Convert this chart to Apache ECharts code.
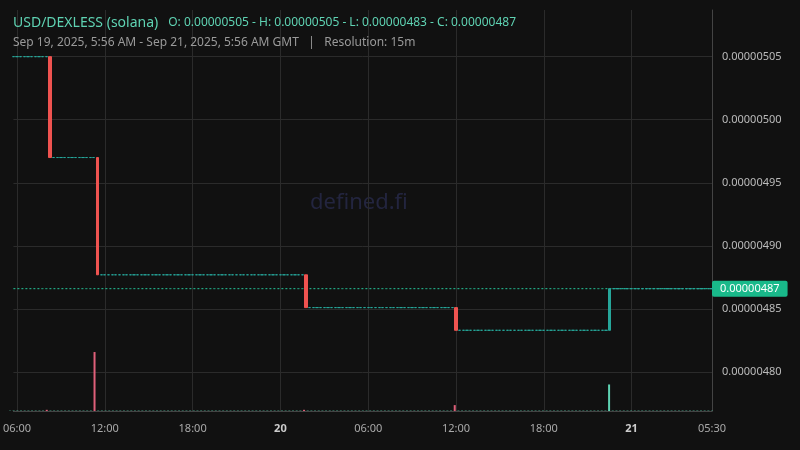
<!DOCTYPE html>
<html><head><meta charset="utf-8">
<script src="https://cdn.jsdelivr.net/npm/echarts@6/dist/echarts.min.js"></script>
<style>html,body{margin:0;background:#111111}#c{width:800px;height:450px}</style>
</head><body><div id="c"></div>
<script>
// Start Sep 19 05:45 GMT, 15m candles, 192 candles
const startTime = Date.UTC(2025, 8, 19, 5, 45);
const candleCount = 192;
// price runs: [first candle index, open, close]; candles between runs are flat at the previous close
const priceMoves = [
  [0, 0.00000505, 0.00000505],
  [10, 0.00000505, 0.00000497],
  [23, 0.00000497, 0.000004877],
  [80, 0.000004877, 0.000004851],
  [121, 0.000004851, 0.000004833],
  [163, 0.000004833, 0.000004866]
];
// volume: [candle index, volume]
const volumes = [[10, 2], [23, 100], [80, 2], [121, 10], [163, 45]];
const priceTicks = [0.0000048, 0.00000485, 0.0000049, 0.00000495, 0.000005, 0.00000505];
const lastPrice = 0.000004866;

const cats = [], candles = [], vol = [], lastLine = [];
let last = priceMoves[0][1];
for (let i = 0; i < candleCount; i++) {
  cats.push(startTime + i * 900000);
  const m = priceMoves.find(p => p[0] === i);
  if (m) { candles.push([m[1], m[2], Math.min(m[1], m[2]), Math.max(m[1], m[2])]); last = m[2]; }
  else candles.push([last, last, last, last]);
  const v = volumes.find(p => p[0] === i);
  vol.push(v ? {value: v[1], itemStyle: {color: candles[i][1] < candles[i][0] ? '#e0607a' : '#5fd3b3'}} : {value: 0.6, itemStyle:{color:'#5fd3b3'}});
  lastLine.push(lastPrice);
}
const isTick = (i) => {
  const d = new Date(cats[i]);
  const h = d.getUTCHours(), mi = d.getUTCMinutes();
  return (mi === 0 && h % 6 === 0) || i === candleCount - 1;
};
const fmtLabel = (val, i) => {
  const d = new Date(Number(val));
  const h = d.getUTCHours(), mi = d.getUTCMinutes();
  if (h === 0 && mi === 0) return '{b|' + d.getUTCDate() + '}';
  return String(h).padStart(2,'0') + ':' + String(mi).padStart(2,'0');
};
const chart = echarts.init(document.getElementById('c'));
chart.setOption({
  backgroundColor: '#111111',
  animation: false,
  title: [{
    left: 8, top: 9,
    text: '{a|USD/DEXLESS (solana)}  {o|O: 0.00000505 - H: 0.00000505 - L: 0.00000483 - C: 0.00000487}',
    textStyle: {rich: {a: {color: '#5fd3b3', fontSize: 14, fontWeight: 'normal', fontFamily: 'Noto Sans'}, o: {color: '#5fd3b3', fontSize: 12, fontWeight: 'normal', fontFamily: 'Noto Sans'}}}
  }, {
    left: 8, top: 32,
    text: 'Sep 19, 2025, 5:56 AM - Sep 21, 2025, 5:56 AM GMT   |   Resolution: 15m',
    textStyle: {color: '#9a9a9a', fontSize: 12, fontWeight: 'normal', fontFamily: 'Noto Sans'}
  }],
  graphic: [{type: 'text', left: 310, top: 192, style: {text: 'defined.fi', fill: '#23253f', fontSize: 22, fontFamily: 'Noto Sans'}}],
  grid: [{left: 10, right: 88, top: 10, bottom: 39}, {left: 10, right: 88, top: 10, bottom: 39}],
  xAxis: [{
    type: 'category', data: cats, gridIndex: 0, boundaryGap: false,
    axisLine: {lineStyle: {color: '#444'}}, axisTick: {show: false},
    axisLabel: {interval: (i) => isTick(i), formatter: fmtLabel, color: '#aaa', fontSize: 11, fontFamily: 'Noto Sans', margin: 12,
      rich: {b: {fontWeight: 'bold', color: '#ccc', fontSize: 11}}},
    splitLine: {show: true, interval: (i) => isTick(i), lineStyle: {color: '#2b2b2b'}}
  }, {type: 'category', data: cats, gridIndex: 1, show: false, boundaryGap: false}],
  yAxis: [{
    type: 'value', gridIndex: 0, position: 'right', scale: true, min: 0.000004769, max: 0.000005087,
    axisLine: {show: true, lineStyle: {color: '#444'}}, axisTick: {show: false, customValues: priceTicks},
    axisLabel: {customValues: priceTicks, color: '#bbb', fontSize: 11, fontFamily: 'Noto Sans', margin: 10, formatter: v => v.toFixed(8)},
    splitLine: {lineStyle: {color: '#2b2b2b'}}
  }, {type: 'value', gridIndex: 1, show: false, min: 0, max: 680}],
  series: [{
    type: 'line', xAxisIndex: 0, yAxisIndex: 0, data: lastLine, showSymbol: false, silent: true, z: 1,
    lineStyle: {color: '#26c69a', type: [2, 2], width: 1},
    endLabel: {show: true, formatter: '0.00000487', color: '#fff', backgroundColor: '#19b98a', padding: [3, 8, 2, 8], fontSize: 11, fontFamily: 'Noto Sans', distance: 0, borderRadius: 2}
  }, {
    type: 'candlestick', xAxisIndex: 0, yAxisIndex: 0, data: candles, barWidth: '75%', z: 3,
    itemStyle: {color: '#26a69a', color0: '#ef5350', borderColor: '#26a69a', borderColor0: '#ef5350', borderWidth: 1}
  }, {
    type: 'bar', xAxisIndex: 1, yAxisIndex: 1, data: vol, barWidth: 2
  }]
});
</script></body></html>
